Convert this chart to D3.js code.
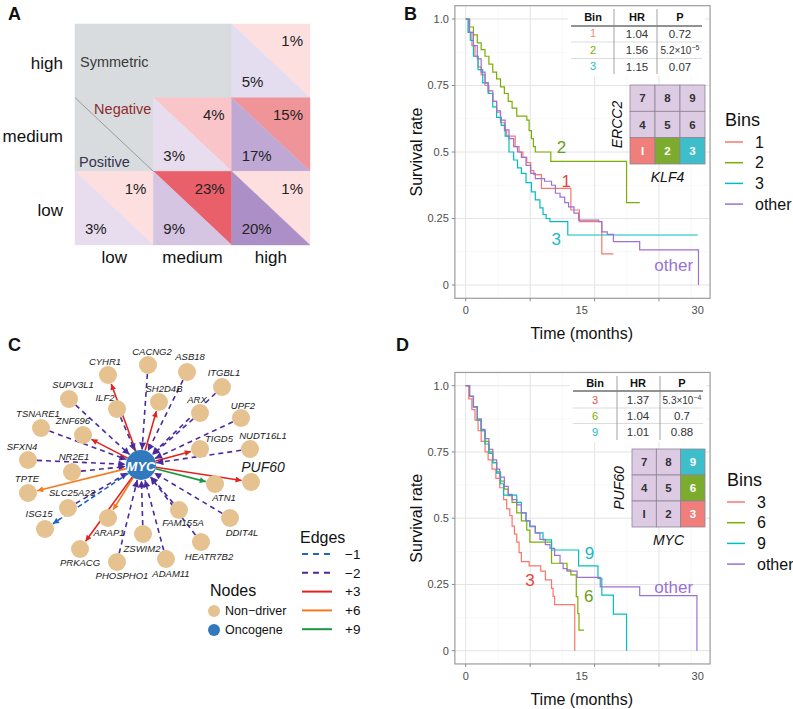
<!DOCTYPE html>
<html><head><meta charset="utf-8">
<script src="https://cdn.jsdelivr.net/npm/d3@7"></script>
<style>body{margin:0;background:#fff;} svg text{font-family:"Liberation Sans",Arial,Helvetica,sans-serif;}</style>
</head><body><svg id="fig" width="793" height="709"></svg>
<script>
// ---------------- DATA ----------------
// Panel A
const aRows = ["high","medium","low"];
const aCols = ["low","medium","high"];
const aNeg = [[null,null,1],[null,4,15],[1,23,1]];
const aPos = [[null,null,5],[null,3,17],[3,9,20]];

// Panel B (months, survival)
const kmB1 = [[0,1],[0.4,0.95],[0.8,0.9],[1.2,0.86],[1.6,0.82],[2.0,0.79],[2.5,0.75],[3.0,0.72],[3.5,0.69],[4.0,0.65],[4.5,0.61],[5.0,0.58],[5.3,0.56],[6.4,0.52],[6.9,0.50],[7.4,0.48],[7.9,0.46],[8.4,0.43],[8.8,0.415],[9.8,0.363],[13.6,0.282],[14.7,0.238],[17.6,0.117],[19.1,0.117]];
const kmB2 = [[0,1],[0.5,0.97],[1,0.94],[1.5,0.91],[2,0.885],[2.5,0.86],[3,0.83],[3.5,0.80],[4,0.775],[4.5,0.745],[5,0.72],[5.5,0.69],[6,0.665],[6.6,0.635],[7.9,0.62],[8.2,0.58],[8.5,0.55],[8.75,0.52],[9.0,0.50],[11.0,0.465],[20.8,0.31],[22.5,0.31]];
const kmB3 = [[0,1],[0.3,0.95],[0.6,0.92],[1.0,0.86],[1.6,0.81],[2.2,0.76],[2.9,0.72],[3.5,0.67],[4.0,0.63],[4.6,0.60],[5.1,0.56],[5.6,0.50],[6.2,0.47],[6.7,0.44],[7.2,0.42],[7.8,0.385],[8.5,0.35],[9.0,0.32],[9.6,0.29],[10.0,0.265],[10.4,0.25],[10.9,0.238],[13.2,0.188],[30,0.188]];
const kmBOther = [[0,1],[0.5,0.95],[1,0.9],[1.5,0.85],[2,0.8],[2.5,0.76],[2.9,0.73],[3.5,0.69],[4,0.655],[4.5,0.62],[5.1,0.583],[5.6,0.55],[6.2,0.52],[6.7,0.50],[7.2,0.48],[7.8,0.45],[8.4,0.42],[9.0,0.40],[10.2,0.39],[11.1,0.375],[11.6,0.345],[12.2,0.33],[12.8,0.31],[13.3,0.294],[14.0,0.27],[14.6,0.244],[17.2,0.238],[17.6,0.20],[18.3,0.19],[19.1,0.163],[22.5,0.132],[30.1,0]];
const bBins = ["1","2","3"];
const bHR = ["1.04","1.56","1.15"];
const bP = ["0.72","5.2×10^−5","0.07"];

// Panel D
const kmD3 = [[0,1],[0.4,0.95],[0.8,0.91],[1.2,0.87],[1.6,0.83],[2.0,0.79],[2.5,0.75],[2.9,0.72],[3.4,0.685],[3.9,0.65],[4.4,0.615],[4.9,0.57],[5.3,0.535],[5.7,0.51],[6.0,0.47],[6.3,0.44],[6.6,0.41],[6.9,0.37],[7.2,0.336],[8.2,0.32],[9.7,0.30],[10.3,0.267],[11.1,0.235],[11.3,0.205],[11.5,0.174],[14.1,0]];
const kmD6 = [[0,1],[0.5,0.96],[1,0.92],[1.5,0.87],[2,0.83],[2.5,0.79],[3,0.75],[3.5,0.71],[4,0.675],[4.5,0.64],[5,0.61],[5.5,0.585],[6,0.56],[6.6,0.52],[7.2,0.49],[7.9,0.455],[8.3,0.41],[11.1,0.33],[13.1,0.305],[13.6,0.286],[14.3,0.204],[14.5,0.14],[14.65,0.078],[15.3,0.078]];
const kmD9 = [[0,1],[0.5,0.96],[1,0.92],[1.5,0.87],[2,0.83],[2.5,0.78],[3,0.745],[3.5,0.71],[4,0.67],[4.5,0.63],[4.9,0.587],[6.6,0.56],[7.2,0.52],[7.8,0.49],[8.3,0.468],[9,0.445],[10,0.418],[11.1,0.38],[14.6,0.32],[17.1,0.273],[17.6,0.21],[19.1,0.138],[20.8,0]];
const kmDOther = [[0,1],[0.5,0.96],[1,0.92],[1.5,0.875],[2,0.835],[2.5,0.80],[3,0.76],[3.5,0.72],[4,0.685],[4.4,0.655],[5,0.62],[5.5,0.59],[6,0.57],[6.6,0.55],[7.2,0.52],[7.8,0.49],[8.3,0.47],[9,0.445],[9.6,0.42],[10.3,0.40],[10.9,0.386],[11.5,0.36],[12.2,0.33],[12.6,0.31],[13.1,0.30],[14.4,0.277],[17.4,0.241],[22.5,0.208],[29.9,0]];
const dBins = ["3","6","9"];
const dHR = ["1.37","1.04","1.01"];
const dP = ["5.3×10^−4","0.7","0.88"];

// shared axis values
const kmYTicks = [0,0.25,0.5,0.75,1];
const kmYTickLabels = ["0","0.25","0.5","0.75","1.0"];
const kmYMinor = [0.125,0.375,0.625,0.875];
const kmXTickLabels = [0,15,30];
const kmXMajor = [0,8.333,16.667,25];
const kmXMinor = [4.167,12.5,20.833,29.167];
const binNumbers = [7,8,9,4,5,6,1,2,3];

// Panel C network
const cHub = "MYC";
const cGenes = ["CACNG2","ASB18","CYHR1","ITGBL1","SUPV3L1","SH2D4B","ILF2","ARX","UPF2","TSNARE1","ZNF696","TIGD5","NUDT16L1","SFXN4","NR2E1","PUF60","TPTE","ATN1","SLC25A23","FAM155A","DDIT4L","ISG15","ARAP1","ZSWIM2","PRKACG","HEATR7B2","ADAM11","PHOSPHO1"];
const cWeights = [-2,-2,3,-2,-2,3,-2,-2,-2,-2,3,3,-2,-2,-2,3,6,9,-2,-2,-2,-1,6,-2,3,-2,-2,-2];
const cEdgeLegend = ["−1","−2","+3","+6","+9"];
const cEdgeLegendW = [-1,-2,3,6,9];
const cNodeLegend = ["Non−driver","Oncogene"];

// layout of panel C (node x, node y, label x, label y)
const cLayout = {
 MYC:[141,465,141,466],
 CACNG2:[148,365,152,352], ASB18:[187,372,190,357], CYHR1:[108,375,105,362], ITGBL1:[222,387,224,373],
 SUPV3L1:[69,399,73,385], SH2D4B:[159,402,164,389], ILF2:[117,409,105,398], ARX:[200,413,197,400],
 UPF2:[241,418,243,406], TSNARE1:[41,428,38,414], ZNF696:[83,435,73,421], TIGD5:[200,449,219,439],
 NUDT16L1:[250,449,263,436], SFXN4:[28,460,22,447], NR2E1:[72,472,74,457], PUF60:[251,482,263,467],
 TPTE:[28,493,27,479], ATN1:[215,484,224,498], SLC25A23:[68,508,72,493], FAM155A:[179,510,183,523],
 DDIT4L:[230,518,242,533], ISG15:[45,529,39,514], ARAP1:[108,518,109,533], ZSWIM2:[143,534,142,549],
 PRKACG:[80,549,80,563], HEATR7B2:[201,542,209,557], ADAM11:[166,559,171,574], PHOSPHO1:[117,562,122,576]
};

// ---------------- DRAW ----------------
const svg = d3.select("#fig");
svg.append("rect").attr("width",793).attr("height",709).attr("fill","#fff");

// panel letters
[["A",8,20],["B",404,20],["C",8,351],["D",396,351]].forEach(([t,x,y])=>{
  svg.append("text").attr("x",x).attr("y",y).attr("font-size",18).attr("font-weight","bold").attr("fill","#111").text(t);
});

// ===== Panel A =====
(function(){
  const g = svg.append("g");
  const xA = d3.scaleBand().domain(aCols).range([75,310]);
  const yA = d3.scaleBand().domain(aRows).range([24,245]);
  const w = xA.bandwidth(), h = yA.bandwidth();
  const negColor = d3.scaleLinear().domain([1,4,15,23]).range(["#fddfe0","#f9c5c9","#ef9599","#e9606a"]);
  const posColor = d3.scaleLinear().domain([3,5,9,17,20]).range(["#e7ddef","#e4dcef","#d5c4e2","#bfa9d4","#ad8fc7"]);
  const gray = "#d9dcde";
  aRows.forEach((r,i)=>aCols.forEach((c,j)=>{
    const x0 = xA(c), y0 = yA(r), n = aNeg[i][j], p = aPos[i][j];
    if(n==null){
      g.append("rect").attr("x",x0).attr("y",y0).attr("width",w).attr("height",h).attr("fill",gray).attr("stroke",gray).attr("stroke-width",0.6);
      return;
    }
    g.append("path").attr("d",`M${x0},${y0}H${x0+w}V${y0+h}Z`).attr("fill",negColor(n)).attr("stroke",negColor(n)).attr("stroke-width",0.4);
    g.append("path").attr("d",`M${x0},${y0}V${y0+h}H${x0+w}Z`).attr("fill",posColor(p)).attr("stroke",posColor(p)).attr("stroke-width",0.4);
    g.append("text").attr("x",x0+w-7).attr("y",y0+17).attr("dy","0.35em").attr("text-anchor","end").attr("font-size",15).attr("fill","#222").text(n+"%");
    g.append("text").attr("x",x0+10).attr("y",y0+h-16).attr("dy","0.35em").attr("font-size",15).attr("fill","#222").text(p+"%");
  }));
  // diagonal in gray medium/low cell
  const dx = xA("low"), dy = yA("medium");
  g.append("line").attr("x1",dx).attr("y1",dy).attr("x2",dx+w).attr("y2",dy+h).attr("stroke","#8a8a8a").attr("stroke-width",0.8);
  g.append("text").attr("x",xA("low")+5).attr("y",yA("high")+38).attr("dy","0.35em").attr("font-size",14.5).attr("fill","#3a3a3a").text("Symmetric");
  g.append("text").attr("x",dx+w-2).attr("y",dy+11).attr("dy","0.35em").attr("text-anchor","end").attr("font-size",14.5).attr("fill","#8e2b2b").text("Negative");
  g.append("text").attr("x",dx+4).attr("y",dy+h-9).attr("dy","0.35em").attr("font-size",14.5).attr("fill","#36334f").text("Positive");
  aRows.forEach(r=>g.append("text").attr("x",63).attr("y",yA(r)+h/2+2).attr("dy","0.35em").attr("text-anchor","end").attr("font-size",17).attr("fill","#111").text(r));
  aCols.forEach(c=>g.append("text").attr("x",xA(c)+w/2).attr("y",257).attr("dy","0.35em").attr("text-anchor","middle").attr("font-size",17).attr("fill","#111").text(c));
})();

// ===== KM panels =====
function drawKM(cfg){
  const g = svg.append("g");
  const x = d3.scaleLinear().domain([0,30]).range([cfg.x0,cfg.x30]);
  const y = d3.scaleLinear().domain([0,1]).range([cfg.y0,cfg.y1]);
  const L = x(-1.4), R = x(31.6), T = y(1.05), B = y(-0.05);
  g.append("rect").attr("x",L).attr("y",T).attr("width",R-L).attr("height",B-T).attr("fill","#fff");
  kmXMinor.forEach(v=>g.append("line").attr("x1",x(v)).attr("x2",x(v)).attr("y1",T).attr("y2",B).attr("stroke","#f1f1f1").attr("stroke-width",0.6));
  kmYMinor.forEach(v=>g.append("line").attr("y1",y(v)).attr("y2",y(v)).attr("x1",L).attr("x2",R).attr("stroke","#f1f1f1").attr("stroke-width",0.6));
  kmXMajor.forEach(v=>g.append("line").attr("x1",x(v)).attr("x2",x(v)).attr("y1",T).attr("y2",B).attr("stroke","#e4e4e4").attr("stroke-width",1));
  kmYTicks.forEach(v=>g.append("line").attr("y1",y(v)).attr("y2",y(v)).attr("x1",L).attr("x2",R).attr("stroke","#e4e4e4").attr("stroke-width",1));
  // table background + table
  const tb = cfg.table;
  g.append("rect").attr("x",tb.x0-3).attr("y",tb.top).attr("width",tb.x1-tb.x0+6).attr("height",tb.bottom-tb.top+2).attr("fill","#fff");
  // curves
  const line = d3.line().x(d=>x(d[0])).y(d=>y(d[1])).curve(d3.curveStepAfter);
  cfg.series.forEach(s=>{
    g.append("path").datum(s.data).attr("d",line).attr("fill","none").attr("stroke",s.color).attr("stroke-width",1.2).attr("stroke-linejoin","miter");
  });
  // inset grid
  const ig = cfg.inset;
  const gx = d3.scaleBand().domain([0,1,2]).range([ig.x0,ig.x1]);
  const gy = d3.scaleBand().domain([0,1,2]).range([ig.y0,ig.y1]);
  binNumbers.forEach((b,k)=>{
    const col = k%3, row = Math.floor(k/3);
    const hi = cfg.highlight[String(b)];
    g.append("rect").attr("x",gx(col)).attr("y",gy(row)).attr("width",gx.bandwidth()).attr("height",gy.bandwidth())
      .attr("fill",hi||"#dccbe3").attr("stroke","#8f8494").attr("stroke-width",0.8);
    g.append("text").attr("x",gx(col)+gx.bandwidth()/2).attr("y",gy(row)+gy.bandwidth()/2).attr("dy","0.36em").attr("text-anchor","middle")
      .attr("font-size",11.5).attr("font-weight","bold").attr("fill",hi?"#fff":"#333").text(b===1?"I":b);
  });
  g.append("text").attr("transform",`translate(${ig.x0-13},${(ig.y0+ig.y1)/2}) rotate(-90)`).attr("text-anchor","middle").attr("dy","0.35em")
    .attr("font-size",14).attr("font-style","italic").attr("fill","#111").text(cfg.yGene);
  g.append("text").attr("x",(ig.x0+ig.x1)/2).attr("y",ig.y1+13).attr("text-anchor","middle").attr("dy","0.35em")
    .attr("font-size",14).attr("font-style","italic").attr("fill","#111").text(cfg.xGene);
  // table
  const cols = tb.cols;
  ["Bin","HR","P"].forEach((t,i)=>g.append("text").attr("x",cols[i]).attr("y",tb.head).attr("dy","0.35em").attr("text-anchor","middle").attr("font-size",11).attr("font-weight","bold").attr("fill","#111").text(t));
  g.append("line").attr("x1",tb.x0).attr("x2",tb.x1).attr("y1",tb.headLine).attr("y2",tb.headLine).attr("stroke","#6e6e6e").attr("stroke-width",1.3);
  tb.rowLines.forEach(v=>g.append("line").attr("x1",tb.x0).attr("x2",tb.x1).attr("y1",v).attr("y2",v).attr("stroke","#d4d4d4").attr("stroke-width",0.8));
  tb.vlines.forEach(v=>g.append("line").attr("x1",v).attr("x2",v).attr("y1",tb.top+3).attr("y2",tb.bottom).attr("stroke","#8a8a8a").attr("stroke-width",0.8));
  cfg.bins.forEach((b,i)=>{
    const yy = tb.rows[i];
    g.append("text").attr("x",cols[0]).attr("y",yy).attr("dy","0.35em").attr("text-anchor","middle").attr("font-size",11).attr("fill",cfg.binColors[i]).text(b);
    g.append("text").attr("x",cols[1]).attr("y",yy).attr("dy","0.35em").attr("text-anchor","middle").attr("font-size",11.5).attr("fill","#333").text(cfg.hr[i]);
    const p = cfg.p[i];
    const t = g.append("text").attr("x",cols[2]).attr("y",yy).attr("dy","0.35em").attr("text-anchor","middle").attr("fill","#333");
    if(p.includes("^")){
      const [m,e] = p.split("^");
      t.attr("font-size",10).append("tspan").text(m);
      t.append("tspan").attr("font-size",7).attr("dy","-4").text(e);
    } else t.attr("font-size",11.5).text(p);
  });
  // curve labels
  cfg.series.forEach(s=>{
    g.append("text").attr("x",x(s.lx)).attr("y",y(s.ly)).attr("dy","0.35em").attr("text-anchor","middle").attr("font-size",17).attr("fill",s.labelColor).text(s.name);
  });
  // frame
  g.append("rect").attr("x",L).attr("y",T).attr("width",R-L).attr("height",B-T).attr("fill","none").attr("stroke","#9c9c9c").attr("stroke-width",1.2);
  // axes
  kmYTicks.forEach((v,i)=>{
    g.append("line").attr("x1",L-3).attr("x2",L).attr("y1",y(v)).attr("y2",y(v)).attr("stroke","#888");
    g.append("text").attr("x",L-6).attr("y",y(v)).attr("dy","0.35em").attr("text-anchor","end").attr("font-size",11).attr("fill","#4d4d4d").text(kmYTickLabels[i]);
  });
  kmXMajor.forEach(v=>g.append("line").attr("x1",x(v)).attr("x2",x(v)).attr("y1",B).attr("y2",B+3).attr("stroke","#888"));
  kmXTickLabels.forEach(v=>g.append("text").attr("x",x(v)).attr("y",B+12).attr("dy","0.35em").attr("text-anchor","middle").attr("font-size",11).attr("fill","#4d4d4d").text(v));
  g.append("text").attr("x",x(15)).attr("y",B+35).attr("dy","0.35em").attr("text-anchor","middle").attr("font-size",16).attr("fill","#111").text("Time (months)");
  g.append("text").attr("transform",`translate(${L-38},${(T+B)/2}) rotate(-90)`).attr("text-anchor","middle").attr("dy","0.35em").attr("font-size",16).attr("fill","#111").text("Survival rate");
  // legend
  const lg = cfg.legend;
  g.append("text").attr("x",lg.x).attr("y",lg.y).attr("dy","0.35em").attr("font-size",18).attr("fill","#111").text("Bins");
  cfg.series.forEach((s,i)=>{
    const yy = lg.y+22+i*20.7;
    g.append("line").attr("x1",lg.x).attr("x2",lg.x+18).attr("y1",yy).attr("y2",yy).attr("stroke",s.color).attr("stroke-width",1.5);
    g.append("text").attr("x",lg.x+30).attr("y",yy).attr("dy","0.35em").attr("font-size",16).attr("fill","#111").text(s.legend);
  });
}

const cRed = "#f8766d", cGreen = "#7cae00", cCyan = "#00bfc4", cPurple = "#9b72cf";
drawKM({
  x0:465.7, x30:697.7, y0:285, y1:19,
  series:[
    {data:kmB1, color:cRed, name:"1", legend:"1", lx:13, ly:0.39, labelColor:"#e0463f"},
    {data:kmB2, color:cGreen, name:"2", legend:"2", lx:12.4, ly:0.52, labelColor:"#6e9a1a"},
    {data:kmB3, color:cCyan, name:"3", legend:"3", lx:11.7, ly:0.172, labelColor:"#19b9c6"},
    {data:kmBOther, color:cPurple, name:"other", legend:"other", lx:26.9, ly:0.075, labelColor:"#9b72cf"}
  ],
  inset:{x0:630,x1:705,y0:85,y1:164}, highlight:{"1":"#f07e7a","2":"#7cac2e","3":"#3ebecb"},
  xGene:"KLF4", yGene:"ERCC2",
  table:{x0:571,x1:702,top:6,bottom:74,head:17,headLine:26,rowLines:[42,58.5],rows:[33.5,50,66.5],vlines:[614,657],cols:[593,637,680]},
  bins:bBins, hr:bHR, p:bP, binColors:["#f28a85","#7cae00","#19b9c6"],
  legend:{x:725,y:120}
});
drawKM({
  x0:465.7, x30:697.7, y0:650.7, y1:385.7,
  series:[
    {data:kmD3, color:cRed, name:"3", legend:"3", lx:8.3, ly:0.265, labelColor:"#e0463f"},
    {data:kmD6, color:cGreen, name:"6", legend:"6", lx:15.9, ly:0.205, labelColor:"#6e9a1a"},
    {data:kmD9, color:cCyan, name:"9", legend:"9", lx:16.0, ly:0.368, labelColor:"#19b9c6"},
    {data:kmDOther, color:cPurple, name:"other", legend:"other", lx:26.9, ly:0.24, labelColor:"#9b72cf"}
  ],
  inset:{x0:632,x1:705,y0:449,y1:527}, highlight:{"3":"#f07e7a","6":"#7cac2e","9":"#3ebecb"},
  xGene:"MYC", yGene:"PUF60",
  table:{x0:573,x1:703,top:373,bottom:440,head:383,headLine:391,rowLines:[408,423.5],rows:[400,416,432],vlines:[617,660],cols:[595,638,682]},
  bins:dBins, hr:dHR, p:dP, binColors:["#f0504a","#7cae00","#19b9c6"],
  legend:{x:727,y:480}
});

// ===== Panel C =====
(function(){
  const g = svg.append("g");
  const px = d3.scaleIdentity(), py = d3.scaleIdentity();
  const rNode = 9, rHub = 15;
  const edgeStyle = {
    "-1":{color:"#1f66c2",dash:"5,3"},
    "-2":{color:"#4a2a9c",dash:"5,4"},
    "3":{color:"#e3221d",dash:null},
    "6":{color:"#f57b20",dash:null},
    "9":{color:"#1a9641",dash:null}
  };
  const defs = svg.append("defs");
  Object.entries(edgeStyle).forEach(([k,s])=>{
    defs.append("marker").attr("id","arr"+k.replace("-","m")).attr("viewBox","0 0 10 10").attr("refX",10).attr("refY",5)
      .attr("markerWidth",k==="-2"?9:8).attr("markerHeight",k==="-2"?7:6).attr("markerUnits","userSpaceOnUse").attr("orient","auto")
      .append("path").attr("d","M0,0L10,5L0,10Z").attr("fill",s.color);
  });
  const hub = cLayout[cHub];
  cGenes.forEach((gene,i)=>{
    const w = cWeights[i], st = edgeStyle[String(w)];
    const n = cLayout[gene];
    let s = [px(hub[0]),py(hub[1])], t = [px(n[0]),py(n[1])], rs = rHub, rt = rNode;
    if(w === -2){ [s,t] = [t,s]; [rs,rt] = [rt,rs]; }
    const dx = t[0]-s[0], dy = t[1]-s[1], d = Math.hypot(dx,dy), ux = dx/d, uy = dy/d;
    const ln = g.append("line").attr("x1",s[0]+ux*rs).attr("y1",s[1]+uy*rs).attr("x2",t[0]-ux*(rt+0.5)).attr("y2",t[1]-uy*(rt+0.5))
      .attr("stroke",st.color).attr("stroke-width",1.6).attr("marker-end",`url(#arr${String(w).replace("-","m")})`);
    if(st.dash) ln.attr("stroke-dasharray",st.dash);
  });
  cGenes.forEach(gene=>{
    const n = cLayout[gene];
    g.append("circle").attr("cx",px(n[0])).attr("cy",py(n[1])).attr("r",rNode).attr("fill","#e5c290");
  });
  g.append("circle").attr("cx",px(hub[0])).attr("cy",py(hub[1])).attr("r",rHub).attr("fill","#3179bd");
  g.append("text").attr("x",px(hub[2])).attr("y",py(hub[3])).attr("dy","0.35em").attr("text-anchor","middle").attr("font-size",13).attr("font-weight","bold").attr("font-style","italic").attr("fill","#fff").text(cHub);
  cGenes.forEach(gene=>{
    const n = cLayout[gene];
    g.append("text").attr("x",px(n[2])).attr("y",py(n[3])).attr("dy","0.35em").attr("text-anchor","middle")
      .attr("font-size",gene==="PUF60"?14:9.5).attr("font-style","italic").attr("fill","#1a1a1a").text(gene);
  });
  // legends
  g.append("text").attr("x",300).attr("y",537).attr("dy","0.35em").attr("font-size",16).attr("fill","#111").text("Edges");
  cEdgeLegendW.forEach((w,i)=>{
    const yy = 554 + i*18.8, st = edgeStyle[String(w)];
    const l = g.append("line").attr("x1",302).attr("x2",332).attr("y1",yy).attr("y2",yy).attr("stroke",st.color).attr("stroke-width",2);
    if(st.dash) l.attr("stroke-dasharray","6,5");
    g.append("text").attr("x",345).attr("y",yy).attr("dy","0.35em").attr("font-size",13.5).attr("fill","#111").text(cEdgeLegend[i]);
  });
  g.append("text").attr("x",210).attr("y",590).attr("dy","0.35em").attr("font-size",16).attr("fill","#111").text("Nodes");
  const nodeCols = ["#e5c290","#3179bd"];
  cNodeLegend.forEach((t,i)=>{
    const yy = 611 + i*19;
    g.append("circle").attr("cx",214).attr("cy",yy).attr("r",6).attr("fill",nodeCols[i]);
    g.append("text").attr("x",225).attr("y",yy).attr("dy","0.35em").attr("font-size",12.5).attr("fill","#111").text(t);
  });
})();
</script></body></html>
